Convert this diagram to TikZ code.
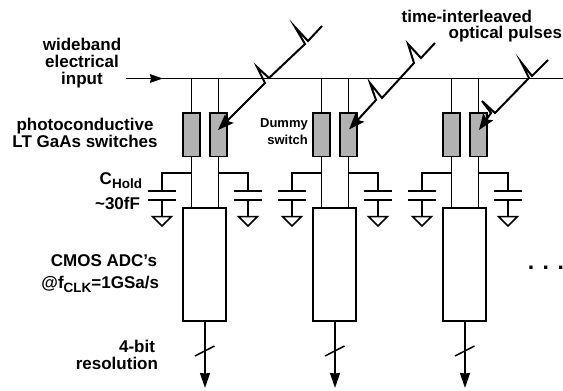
\documentclass[tikz,border=0pt]{standalone}
\usepackage{fontspec}
\setmainfont{Liberation Sans}
\usetikzlibrary{arrows.meta}
\tikzset{
  wire/.style={line width=1.5pt,line cap=butt},
  heavy/.style={line width=1.8pt},
  switchbox/.style={draw,line width=1.6pt,fill=black!30,minimum width=17pt,minimum height=43.5pt,inner sep=0pt,outer sep=0pt},
  adcbox/.style={draw,line width=1.6pt,fill=white,minimum width=43.5pt,minimum height=113.5pt,inner sep=0pt,outer sep=0pt},
  label/.style={inner sep=0pt,outer sep=0pt,font=\fontsize{17}{17}\selectfont\bfseries,align=center},
  smalllabel/.style={inner sep=0pt,outer sep=0pt,font=\fontsize{13}{17}\selectfont\bfseries,align=right},
  tip/.style={-{Stealth[length=16pt,width=12pt,inset=3pt]}},
  opt/.style={line width=2pt,miter limit=10}
}
\newcommand{\subtxt}[1]{\raisebox{-4.5pt}{\fontsize{13.5}{13.5}\selectfont #1}}
\begin{document}
\begin{tikzpicture}[x=1pt,y=-1pt]
\useasboundingbox (0,0) rectangle (563,391);
\coordinate (busin) at (126,78.5);
\coordinate (busarrow) at (163,78.5);
\coordinate (busend) at (563,78.5);
\draw[wire] (busin) -- (busend);
\draw[wire,-{Stealth[length=13pt,width=8.5pt,inset=1pt]}] (busin) -- (busarrow);
\foreach \c/\dx in {1/0,2/130,3/260}{
\begin{scope}[xshift=\dx pt]
  \node[switchbox] (swa\c) at (191.5,134.7) {};
  \node[switchbox] (swb\c) at (218.5,134.7) {};
  \node[adcbox] (adc\c) at (204.5,264.5) {};
  \coordinate (out\c) at (205,388);
  \coordinate (tapl\c) at (191.5,173);
  \coordinate (tapr\c) at (218.5,173);
  \coordinate (capla\c) at (162,191);
  \coordinate (caplb\c) at (162,199.7);
  \coordinate (gndl\c) at (162,216.5);
  \coordinate (capra\c) at (248,191);
  \coordinate (caprb\c) at (248,199.7);
  \coordinate (gndr\c) at (248,216.5);
  \coordinate (slasha\c) at (195,356);
  \coordinate (slashb\c) at (214.5,346);
\end{scope}
\draw[wire] (swa\c.north |- busin) -- (swa\c.north);
\draw[wire] (swb\c.north |- busin) -- (swb\c.north);
\draw[wire] (swa\c.south) -- (swa\c.south |- adc\c.north);
\draw[wire] (swb\c.south) -- (swb\c.south |- adc\c.north);
\draw[wire] (tapl\c) -| (capla\c);
\draw[wire] (tapr\c) -| (capra\c);
\draw[heavy] ([xshift=-14pt]capla\c) -- ([xshift=14pt]capla\c);
\draw[heavy] ([xshift=-14pt]caplb\c) -- ([xshift=14pt]caplb\c);
\draw[heavy] ([xshift=-14pt]capra\c) -- ([xshift=14pt]capra\c);
\draw[heavy] ([xshift=-14pt]caprb\c) -- ([xshift=14pt]caprb\c);
\draw[wire] (caplb\c) -- (gndl\c);
\draw[wire] (caprb\c) -- (gndr\c);
\draw[wire,line join=miter] ([xshift=-9.5pt]gndl\c) -- ([xshift=9.5pt]gndl\c) -- ([yshift=-9.5pt]gndl\c) -- cycle;
\draw[wire,line join=miter] ([xshift=-9.5pt]gndr\c) -- ([xshift=9.5pt]gndr\c) -- ([yshift=-9.5pt]gndr\c) -- cycle;
\draw[heavy,-{Stealth[length=15pt,width=10pt,inset=0.5pt]}] (adc\c.south -| out\c) -- (out\c);
\draw[wire] (slasha\c) -- (slashb\c);
}
% optical pulses
\coordinate (pta) at (322,26);
\coordinate (ptb) at (435,43);
\coordinate (ptc) at (548,60);
\coordinate (tipa) at (218,130);
\coordinate (tipb) at (349,129.5);
\coordinate (tipc) at (479,130);
\draw[opt,tip] (pta) -- (308,41) -- (295,27) -- (305,44) -- (269,78) -- (257,67) -- (265,83) -- (tipa);
\draw[opt,tip] (ptb) -- (421,58) -- (408,44) -- (414,63) -- (382,98) -- (370,83) -- (376,100) -- (tipb);
\draw[opt,tip] (ptc) -- (532,76) -- (521,62) -- (529,78) -- (495,113) -- (482,101) -- (491,113) -- (tipc);
% labels
\node[label] (lwide) at (82,63.5) {wideband\\electrical\\input};
\node[label] (lphoto) at (85,133) {photoconductive\\LT GaAs switches};
\node[smalllabel] (ldummy) at (284,132) {Dummy\\switch};
\node[label,anchor=base east] (lchold) at (142,184) {C\subtxt{Hold}};
\node[label,anchor=base east] (lthirty) at (140,209) {\textasciitilde30fF};
\node[label,anchor=base east] (lcmos) at (157,266) {CMOS ADC’s};
\node[label,anchor=base east] (lclk) at (159,288) {@f\subtxt{CLK}=1GSa/s};
\node[label,anchor=base east] (lfour) at (155,352) {4-bit};
\node[label,anchor=base east] (lres) at (158,369) {resolution};
\node[label,anchor=base east] (ltime) at (532,22) {time-interleaved};
\node[label,anchor=base east] (lopt) at (562,38) {optical pulses};
\node[inner sep=0pt,outer sep=0pt,anchor=base east,font=\fontsize{23}{23}\selectfont\bfseries] (ldots) at (564,269) {. . .};
\end{tikzpicture}
\end{document}
